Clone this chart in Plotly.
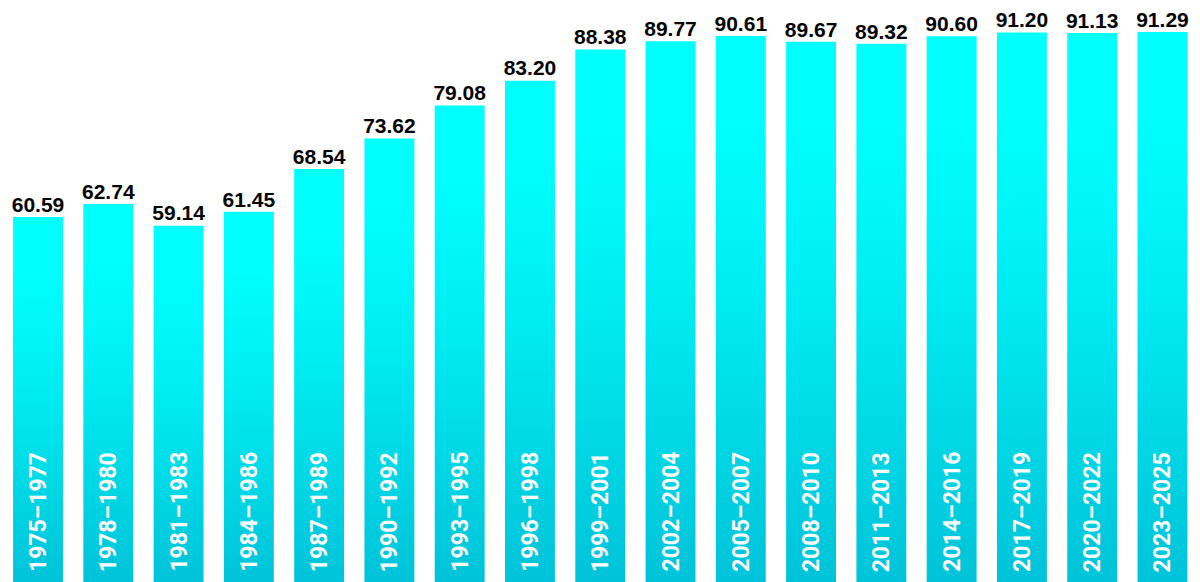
import plotly.graph_objects as go

# periods and values
periods = ["1975–1977", "1978–1980", "1981–1983", "1984–1986", "1987–1989",
           "1990–1992", "1993–1995", "1996–1998", "1999–2001", "2002–2004",
           "2005–2007", "2008–2010", "2011–2013", "2014–2016", "2017–2019",
           "2020–2022", "2023–2025"]
values = [60.59, 62.74, 59.14, 61.45, 68.54, 73.62, 79.08, 83.20, 88.38,
          89.77, 90.61, 89.67, 89.32, 90.60, 91.20, 91.13, 91.29]

BAR_W = 0.71
grad = [[0.0, "#00C3D9"], [0.55, "#00EEF3"], [0.85, "#00FFFF"], [1.0, "#00FFFF"]]

fig = go.Figure()

#one filled shape per bar so each bar can carry its own vertical gradient
for i, v in enumerate(values):
    x0, x1 = i - BAR_W / 2, i + BAR_W / 2
    fig.add_trace(go.Scatter(
        x=[x0, x0, x1, x1, x0], y=[0, v, v, 0, 0],
        mode="lines", fill="toself", line=dict(width=0),
        fillgradient=dict(type="vertical", colorscale=grad, start=0, stop=v),
        hoverinfo="skip", showlegend=False))

#value labels above the bars
fig.add_trace(go.Scatter(
    x=list(range(len(values))), y=values, mode="text",
    text=[f"{v:.2f}" for v in values], textposition="top center",
    textfont=dict(family="Liberation Sans", size=21, color="#000000", weight="bold"),
    hoverinfo="skip", showlegend=False))

#period labels written vertically inside the bars
for i, p in enumerate(periods):
    fig.add_annotation(x=i, y=0, text=p, textangle=-90, showarrow=False,
                       xanchor="center", yanchor="bottom", yshift=8,
                       font=dict(family="Roboto", size=23, color="white", weight="bold"))

fig.update_layout(
    width=1200, height=582,
    margin=dict(l=0, r=0, t=0, b=0),
    paper_bgcolor="white", plot_bgcolor="white",
    xaxis=dict(range=[-0.541, len(values) - 0.466], visible=False, fixedrange=True),
    yaxis=dict(range=[0, 96.6], visible=False, fixedrange=True),
)

#drop the page's default body margin so the chart sits flush in the window
fig.write_html("out.html", config={"displayModeBar": False},
               post_script="document.body.style.margin='0';")
